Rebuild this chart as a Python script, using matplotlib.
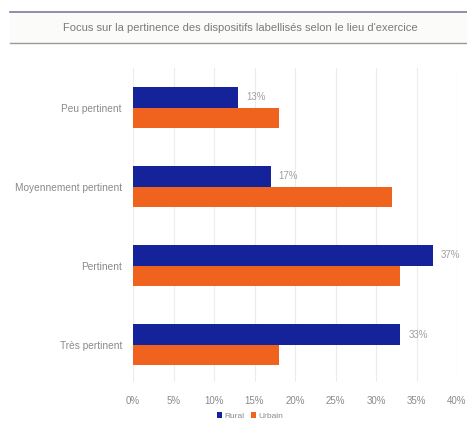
import matplotlib
matplotlib.use("Agg")
import matplotlib.pyplot as plt
from matplotlib.patches import Rectangle
from matplotlib.lines import Line2D
import numpy as np

categories = ["Peu pertinent", "Moyennement pertinent", "Pertinent", "Très pertinent"]
rural = [13, 17, 37, 33]
urbain = [18, 32, 33, 18]
xticks = [0, 5, 10, 15, 20, 25, 30, 35, 40]

blue = "#14239a"
orange = "#f0631f"
grey_txt = "#8a8a8a"

plt.rcParams["font.family"] = ["Liberation Sans", "DejaVu Sans"]

fig = plt.figure(figsize=(4.67, 4.34), dpi=100)
fig.patch.set_facecolor("white")

# title band
band = Rectangle((10/467, 1 - 43/434), 1, 31/434, transform=fig.transFigure,
                 facecolor="#fbfbfa", edgecolor="none")
fig.patches.append(band)
fig.add_artist(Line2D([10/467, 1], [1 - 12/434, 1 - 12/434], transform=fig.transFigure,
                      color="#7d7b98", lw=1.2))
fig.add_artist(Line2D([10/467, 1], [1 - 43/434, 1 - 43/434], transform=fig.transFigure,
                      color="#9a9a9a", lw=1.0))
fig.text(240/467, 1 - 28/434, "Focus sur la pertinence des dispositifs labellisés selon le lieu d'exercice",
         ha="center", va="center", fontsize=8, color="#7a7a7a")

ax = fig.add_axes([133/467, 52/434, 324/467, 314/434])
y = np.arange(len(categories))
h = 0.26
ax.barh(y - h/2, rural, height=h, color=blue, label="Rural", zorder=3)
ax.barh(y + h/2, urbain, height=h, color=orange, label="Urbain", zorder=3)

for yi, v in zip(y, rural):
    ax.text(v + 1, yi - h/2, f"{v}%", va="center", ha="left", fontsize=7, color="#a0a0a0")

ax.set_xlim(0, 40)
ax.set_ylim(3.47, -0.5)
ax.set_xticks(xticks)
ax.set_xticklabels([f"{t}%" for t in xticks])
ax.set_yticks(y)
ax.set_yticklabels(categories)
ax.tick_params(axis="both", length=0, labelsize=7, colors=grey_txt)
ax.tick_params(axis="y", pad=8, labelsize=7.3)
ax.tick_params(axis="x", pad=10)
ax.grid(axis="x", color="#ececec", lw=0.8, zorder=0)
for s in ax.spines.values():
    s.set_visible(False)

leg = fig.legend(loc="center", bbox_to_anchor=(250/467, 1 - 416/434), ncol=2, frameon=False,
                 fontsize=6, handlelength=0.6, handleheight=0.6, handletextpad=0.3,
                 columnspacing=0.8, labelcolor=grey_txt)

fig.savefig("out.png", dpi=100)
